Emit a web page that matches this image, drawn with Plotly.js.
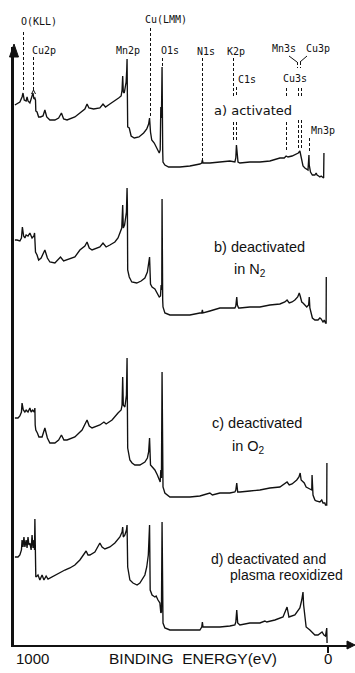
<!DOCTYPE html>
<html>
<head>
<meta charset="utf-8">
<script src="https://cdn.plot.ly/plotly-3.0.1.min.js"></script>
<style>html,body{margin:0;padding:0;background:#fff;}#chart{width:355px;height:673px;}</style>
</head>
<body>
<div id="chart"></div>
<script>
// ---- Data: binding energy (eV) and intensity (a.u., relative to each spectrum's baseline) ----
const spectrumNames = ["a) activated", "b) deactivated in N2", "c) deactivated in O2", "d) deactivated and plasma reoxidized"];
const offsets = [478, 330, 148, 15];

const energyA = [1002,995,986,979,976,972,966,963,960,954,947,944,941,938,936,935,931,926,920,912,906,900,890,874,862,853,846,835,810,794,778,771,765,750,730,720,712,698,682,670,662,659,657,655,652,649,646,644,643,642,641,636,630,620,605,590,580,574,571,568,564,556,548,540,537,535,533,531,529,528,522,510,474,442,410,404,402,400,378,346,314,298,295,293,291,288,282,250,218,186,154,140,134,128,115,106,95,90,86,83,80,74,64,62,61,60,56,50,42,38,35,30,26,22,18,14,13];
const countsA = [62,63,65,70,74,67,66,70,66,64,71,74,68,69,67,56,55,50,50,51,57,50,47,47,49,54,48,47,50,54,58,63,59,58,59,63,60,63,66,69,71,77,91,75,74,79,85,97,108,72,40,39,31,29,30,34,38,43,49,35,27,24,19,14,17,60,49,100,17,5,2,0,0,1,3,4,7,4,4,5,6,5,9,22,9,5,4,5,5,6,9,9,11,10,11,12,14,16,11,5,1,-1,-3,7,12,2,-5,-8,-8,-6,-8,-9,-10,-9,-10,-11,14];

const energyB = [1002,995,986,981,978,974,970,966,960,954,947,941,939,938,936,931,926,918,906,898,890,874,866,856,846,835,810,794,778,771,764,755,740,730,720,710,698,682,672,666,660,657,655,651,648,645,643,642,641,636,628,612,598,586,578,574,571,568,563,554,546,540,536,534,532,531,529,528,522,506,474,442,410,404,402,400,378,346,314,298,295,292,290,286,282,250,218,186,154,138,131,124,115,106,97,92,89,84,80,75,68,62,60,58,55,50,42,32,26,22,16,12,8,6,5.5];
const countsB = [75,75,74,77,88,79,77,80,79,82,77,79,82,69,63,60,55,57,65,57,53,52,55,58,54,55,58,65,69,73,67,65,67,68,72,68,70,73,77,82,87,110,87,90,95,103,127,110,45,38,33,32,34,37,43,50,58,31,28,26,22,18,19,30,25,116,15,8,2,0,0,0,2,2,5,2,4,7,7,7,9,18,10,7,7,8,8,10,11,13,15,12,13,15,18,22,19,13,12,10,8,10,18,7,2,-3,-5,-5,-3,-4,-7,-5,-8,-8,38];

const energyC = [1002,992,986,981,979,975,970,966,960,954,950,945,940,938,937,935,930,925,915,906,898,890,874,862,853,845,835,810,787,778,771,764,755,730,717,710,698,691,672,662,659,657,655,650,647,645,643,642,641,634,627,618,602,586,578,574,571,568,563,554,546,540,537,535,533,531,529,528,522,506,474,442,410,378,370,346,314,298,295,292,289,282,250,218,186,154,131,124,115,100,93,89,86,80,76,70,58,54,52,51,50,48,42,38,26,20,16,10,8,4,3.5];
const countsC = [79,79,81,85,94,87,85,87,85,89,85,87,85,89,72,67,64,60,60,69,59,54,54,57,62,57,57,60,67,72,77,71,69,72,75,73,75,77,84,87,92,120,92,90,97,102,139,107,49,37,34,32,32,35,39,45,59,32,30,27,22,17,15,27,19,125,15,10,4,0,0,0,1,4,2,4,4,5,7,14,5,5,6,7,9,10,15,12,13,17,20,24,17,15,14,10,8,7,7,22,4,2,-3,-4,-5,-3,-6,-6,-8,-8,34];

const energyD = [1002,992,986,981,979,976,973,970,966,963,960,957,954,950,947,944,941,939,938,937,935,931,928,922,915,909,902,896,890,874,858,842,826,810,794,778,774,768,762,746,730,723,714,698,682,666,659,657,655,650,645,643,642,641,634,624,611,602,586,580,575,572,571,569,563,554,550,544,538,535,533,531,529,528,522,506,474,442,410,404,402,400,378,346,314,298,295,292,289,282,250,218,202,196,170,144,131,125,106,90,84,80,78,74,70,58,51,42,32,19,13,8,4,3];
const countsD = [73,73,75,80,90,83,93,83,90,82,93,85,87,80,95,82,90,80,111,70,53,54,55,50,55,50,54,51,52,55,58,60,62,65,70,77,79,75,75,78,87,83,81,83,87,93,98,103,93,95,100,105,90,63,50,47,45,47,55,63,75,90,105,40,35,33,34,30,27,17,18,108,10,7,2,0,0,0,0,3,8,3,3,3,4,5,8,20,7,5,7,7,9,8,10,13,23,13,15,22,30,38,25,10,3,0,-2,-5,-5,-2,-5,-6,2,-13];

const xTickValues = [1000, 0];
const xTickLabels = ["1000", "0"];
const xAxisTitle = "BINDING\u00a0\u00a0ENERGY(eV)";

const peakNames = ["O(KLL)", "Cu2p", "Mn2p", "Cu(LMM)", "O1s", "N1s", "K2p", "C1s", "Mn3s", "Cu3p", "Cu3s", "Mn3p"];

// ---- Layout geometry (pixels) ----
const PL = 14, PR = 350, PT = 47, PB = 645;
const px = v => (v - PL) / (PR - PL);
const py = v => (PB - v) / (PB - PT);

const sets = [[energyA, countsA], [energyB, countsB], [energyC, countsC], [energyD, countsD]];
const traces = sets.map((s, i) => ({
  x: s[0], y: s[1].map(v => v + offsets[i]), type: 'scatter', mode: 'lines',
  name: spectrumNames[i], line: {color: '#111', width: 1.35}, hoverinfo: 'skip'
}));

const monoFont = {family: 'DejaVu Sans Mono, monospace', size: 10, color: '#111'};
const sansFont = {family: 'Liberation Sans, Arial, sans-serif', size: 14.5, color: '#111'};
const sansFontD = {family: 'Liberation Sans, Arial, sans-serif', size: 14, color: '#111'};

// peak label positions (pixel centers)
const labelPos = [[39,22],[44,50],[128,50],[166,20],[170,50],[206,51],[236,51],[247,80],[284,48],[318,48],[295,79],[323,130]];
const annotations = [];
peakNames.forEach((t, i) => annotations.push({
  text: t, xref: 'paper', yref: 'paper', x: px(labelPos[i][0]), y: py(labelPos[i][1]),
  xanchor: 'center', yanchor: 'middle', showarrow: false, font: monoFont
}));
const panelText = [
  ["a) activated", 212, 110, {family: 'DejaVu Sans, sans-serif', size: 13, color: '#111'}],
  ["b) deactivated", 212, 247, sansFont],
  ["in N<sub>2</sub>", 232, 270, sansFont],
  ["c) deactivated", 210, 423, sansFont],
  ["in O<sub>2</sub>", 230, 447, sansFont],
  ["d) deactivated and", 209, 559, sansFontD],
  ["plasma reoxidized", 228, 575, sansFontD]
];
panelText.forEach(p => annotations.push({
  text: p[0], xref: 'paper', yref: 'paper', x: px(p[1]), y: py(p[2]),
  xanchor: 'left', yanchor: 'middle', showarrow: false, font: p[3]
}));
annotations.push({text: xTickLabels[0], xref: 'paper', yref: 'paper', x: px(14), y: py(658),
  xanchor: 'left', yanchor: 'middle', showarrow: false, font: {family: 'Liberation Sans, Arial, sans-serif', size: 15, color: '#111'}});
annotations.push({text: xTickLabels[1], xref: 'paper', yref: 'paper', x: px(328), y: py(658),
  xanchor: 'center', yanchor: 'middle', showarrow: false, font: {family: 'Liberation Sans, Arial, sans-serif', size: 15, color: '#111'}});
annotations.push({text: xAxisTitle, xref: 'paper', yref: 'paper', x: px(107), y: py(658),
  xanchor: 'left', yanchor: 'middle', showarrow: false, font: {family: 'Liberation Sans, Arial, sans-serif', size: 15.5, color: '#111'}});

// dashed marker lines (pixels): x, y0, y1
const dashes = [[23.5,32,92],[33.5,57,90],[150.5,28,117],[162.5,58,66],[202.5,58,161],[233.5,58,97],[233.5,122,142],[236.5,87,97],[236.5,122,142],
  [297.5,62,68],[300.5,62,68],[286.5,88,97],[286.5,122,150],[298.5,88,97],[301.5,88,97],[298.5,120,150],[301.5,120,150],[309.5,138,153]];
const shapes = dashes.map(d => ({type: 'line', xref: 'paper', yref: 'paper', x0: px(d[0]), x1: px(d[0]), y0: py(d[1]), y1: py(d[2]),
  line: {color: '#111', width: 1, dash: '3px,2px'}}));
// small solid connectors
[[[289,56],[297,62]],[[307,56],[300,62]],[[31.5,94],[33.5,90]],[[33.5,90],[35.5,94]]].forEach(l => shapes.push({
  type: 'line', xref: 'paper', yref: 'paper', x0: px(l[0][0]), y0: py(l[0][1]), x1: px(l[1][0]), y1: py(l[1][1]),
  line: {color: '#111', width: 1}}));
// arrowheads
const tri = pts => 'M ' + pts.map(p => px(p[0]) + ',' + py(p[1])).join(' L ') + ' Z';
shapes.push({type: 'path', xref: 'paper', yref: 'paper', path: tri([[14,44],[9.5,57],[18.5,57]]), fillcolor: '#111', line: {color: '#111', width: 1}});
shapes.push({type: 'path', xref: 'paper', yref: 'paper', path: tri([[355,645],[347,641],[347,649]]), fillcolor: '#111', line: {color: '#111', width: 1}});

const layout = {
  width: 355, height: 673,
  margin: {l: PL, r: 355 - PR, t: PT, b: 673 - PB, pad: 0},
  paper_bgcolor: '#fff', plot_bgcolor: '#fff', showlegend: false,
  xaxis: {range: [(328 - PL) * 3.2, (328 - PR) * 3.2], showgrid: false, zeroline: false, showline: true,
    linecolor: '#111', linewidth: 2, ticks: 'outside', tickvals: [xTickValues[1]], ticklen: 6, tickwidth: 1.5,
    tickcolor: '#111', showticklabels: false, fixedrange: true},
  yaxis: {range: [0, PB - PT], showgrid: false, zeroline: false, showline: true, linecolor: '#111', linewidth: 3,
    showticklabels: false, ticks: '', fixedrange: true},
  annotations: annotations, shapes: shapes
};
Plotly.newPlot('chart', traces, layout, {displayModeBar: false, staticPlot: true});
</script>
</body>
</html>
